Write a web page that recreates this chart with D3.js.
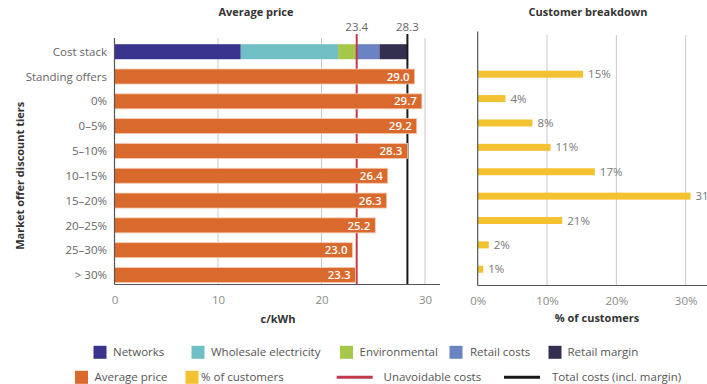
<!DOCTYPE html>
<html><head><meta charset="utf-8">
<script src="https://cdn.jsdelivr.net/npm/d3@7"></script>
<style>
html,body{margin:0;padding:0;background:#fff;}
svg{display:block;font-family:"Open Sans",sans-serif;}
</style></head>
<body><svg id="chart" width="707" height="384"></svg>
<script>
// ---- data ----
const rows = ["Cost stack","Standing offers","0%","0–5%","5–10%","10–15%","15–20%","20–25%","25–30%","> 30%"];
const tiers = rows.slice(1);
const costComponents = ["Networks","Wholesale electricity","Environmental","Retail costs","Retail margin"];
const costValues = [12.2, 9.4, 1.8, 2.2, 2.7];
const avgPrice = [29.0, 29.7, 29.2, 28.3, 26.4, 26.3, 25.2, 23.0, 23.3];
const customerBar = [15.2, 4.0, 7.9, 10.5, 16.9, 30.7, 12.2, 1.6, 0.8];
const customerLabels = ["15%","4%","8%","11%","17%","31%","21%","2%","1%"];
const unavoidable = 23.4;
const totalCost = 28.3;
const priceTicks = [0, 10, 20, 30];
const pctTicks = [0, 10, 20, 30];

// ---- styles ----
const costColors = ["#3b348f","#6fbfc4","#a6c84a","#6b83c2","#33304f"];
const orange = "#d9692c", yellow = "#f2c230", red = "#c23a4c", black = "#1a1a1a";

const svg = d3.select("#chart");

// ---- left panel ----
const xL = d3.scaleLinear().domain([0, 30]).range([114.5, 425]);
const yL = d3.scaleBand().domain(rows).range([38, 288.7]).paddingInner(0.395).paddingOuter(0.25);
const L = svg.append("g");
// gridlines
L.selectAll("line.grid").data(priceTicks.slice(1)).enter().append("line")
  .attr("x1", d => xL(d)).attr("x2", d => xL(d)).attr("y1", 38).attr("y2", 284.5)
  .attr("stroke", "#c8c8c8").attr("stroke-width", 1);
// cost stack
let acc = 0;
const stack = costValues.map((v, i) => { const s = {start: acc, end: acc + v, c: costColors[i]}; acc += v; return s; });
L.selectAll("rect.stack").data(stack).enter().append("rect")
  .attr("x", d => xL(d.start)).attr("width", d => xL(d.end) - xL(d.start))
  .attr("y", yL("Cost stack")).attr("height", yL.bandwidth()).attr("fill", d => d.c);
// reference lines (behind the price bars, above the cost stack)
[[unavoidable, red], [totalCost, black]].forEach(([v, c]) => {
  L.append("line").attr("x1", xL(v)).attr("x2", xL(v)).attr("y1", 34).attr("y2", 284.5)
    .attr("stroke", c).attr("stroke-width", 2);
  L.append("text").attr("x", xL(v)).attr("y", 31).attr("text-anchor", "middle")
    .attr("font-size", 11.5).attr("fill", "#666").text(v.toFixed(1));
});
// price bars
L.selectAll("rect.price").data(avgPrice).enter().append("rect")
  .attr("x", xL(0)).attr("width", d => xL(d) - xL(0))
  .attr("y", (d, i) => yL(tiers[i])).attr("height", yL.bandwidth())
  .attr("fill", orange).attr("stroke", "#f5cdb3").attr("stroke-width", 0.8);
L.selectAll("text.val").data(avgPrice).enter().append("text")
  .attr("x", d => xL(d) - 5).attr("y", (d, i) => yL(tiers[i]) + yL.bandwidth() / 2)
  .attr("dy", "0.36em").attr("text-anchor", "end").attr("fill", "#fff")
  .attr("font-size", 11.5).attr("font-weight", 600).text(d => d.toFixed(1));
// axes lines
L.append("line").attr("x1", xL(0)).attr("x2", xL(0)).attr("y1", 38).attr("y2", 284.5).attr("stroke", "#555").attr("stroke-width", 1.2);
L.append("line").attr("x1", xL(0)).attr("x2", 440).attr("y1", 284.5).attr("y2", 284.5).attr("stroke", "#555").attr("stroke-width", 1.2);
// x axis ticks
const axL = d3.axisBottom(xL).tickValues(priceTicks).tickSize(0).tickPadding(0).tickFormat(d3.format("d"));
L.append("g").attr("transform", "translate(0,296)").call(axL)
  .call(g => g.select(".domain").remove())
  .call(g => g.selectAll("text").attr("font-size", 11.5).attr("fill", "#8a8a8a").attr("font-family", "Open Sans"));
// row labels
L.selectAll("text.cat").data(rows).enter().append("text")
  .attr("x", 107).attr("y", d => yL(d) + yL.bandwidth() / 2).attr("dy", "0.36em")
  .attr("text-anchor", "end").attr("font-size", 11.5).attr("fill", "#666").text(d => d);
// titles
svg.append("text").attr("x", 256).attr("y", 15.5).attr("text-anchor", "middle")
  .attr("font-size", 11).attr("font-weight", 700).attr("fill", "#333").text("Average price");
svg.append("text").attr("x", 278).attr("y", 323).attr("text-anchor", "middle")
  .attr("font-size", 11).attr("font-weight", 700).attr("fill", "#333").text("c/kWh");
svg.append("text").attr("transform", "translate(24," + ((yL(tiers[0]) + yL(tiers[8]) + yL.bandwidth()) / 2) + ") rotate(-90)")
  .attr("text-anchor", "middle").attr("font-size", 11).attr("font-weight", 700).attr("fill", "#333")
  .text("Market offer discount tiers");

// ---- right panel ----
const xR = d3.scaleLinear().domain([0, 30]).range([477.7, 685.7]);
const yR = d3.scaleBand().domain(rows).range([37.6, 281.5]).paddingInner(0.713).paddingOuter(0.357);
const R = svg.append("g");
R.selectAll("line.grid").data(pctTicks.slice(1)).enter().append("line")
  .attr("x1", d => xR(d)).attr("x2", d => xR(d)).attr("y1", 35).attr("y2", 285.5)
  .attr("stroke", "#c8c8c8").attr("stroke-width", 1);
R.selectAll("rect.pct").data(customerBar).enter().append("rect")
  .attr("x", xR(0)).attr("width", d => xR(d) - xR(0))
  .attr("y", (d, i) => yR(tiers[i])).attr("height", yR.bandwidth()).attr("fill", yellow);
R.selectAll("text.pct").data(customerBar).enter().append("text")
  .attr("x", d => xR(d) + 5).attr("y", (d, i) => yR(tiers[i]) + yR.bandwidth() / 2).attr("dy", "0.36em")
  .attr("font-size", 11.5).attr("fill", "#777").text((d, i) => customerLabels[i]);
R.append("line").attr("x1", xR(0)).attr("x2", xR(0)).attr("y1", 31.5).attr("y2", 285.5).attr("stroke", "#555").attr("stroke-width", 1.2);
R.append("line").attr("x1", xR(0)).attr("x2", 707).attr("y1", 285.5).attr("y2", 285.5).attr("stroke", "#555").attr("stroke-width", 1.2);
const axR = d3.axisBottom(xR).tickValues(pctTicks).tickSize(0).tickPadding(0).tickFormat(d => d + "%");
R.append("g").attr("transform", "translate(0,296.5)").call(axR)
  .call(g => g.select(".domain").remove())
  .call(g => g.selectAll("text").attr("font-size", 11.5).attr("fill", "#8a8a8a").attr("font-family", "Open Sans"));
svg.append("text").attr("x", 588).attr("y", 15.5).attr("text-anchor", "middle")
  .attr("font-size", 11).attr("font-weight", 700).attr("fill", "#333").text("Customer breakdown");
svg.append("text").attr("x", 597).attr("y", 322).attr("text-anchor", "middle")
  .attr("font-size", 11).attr("font-weight", 700).attr("fill", "#333").text("% of customers");

// ---- legend ----
const legendItems = [
  {label: costComponents[0], type: "box", color: costColors[0], x: 93.5, tx: 113, row: 0},
  {label: costComponents[1], type: "box", color: costColors[1], x: 191.5, tx: 211, row: 0},
  {label: costComponents[2], type: "box", color: costColors[2], x: 340, tx: 359.5, row: 0},
  {label: costComponents[3], type: "box", color: costColors[3], x: 449.5, tx: 470, row: 0},
  {label: costComponents[4], type: "box", color: costColors[4], x: 548.5, tx: 567.5, row: 0},
  {label: "Average price", type: "box", color: orange, x: 75, tx: 94.5, row: 1},
  {label: "% of customers", type: "box", color: yellow, x: 185.5, tx: 201, row: 1},
  {label: "Unavoidable costs", type: "line", color: red, x: 336.7, tx: 383.5, row: 1},
  {label: "Total costs (incl. margin)", type: "line", color: black, x: 504, tx: 552, row: 1}
];
const rowY = [352.3, 377.3];
const lg = svg.append("g").selectAll("g").data(legendItems).enter().append("g");
lg.filter(d => d.type === "box").append("rect")
  .attr("x", d => d.x).attr("y", d => rowY[d.row] - 6.5).attr("width", 13).attr("height", 13).attr("fill", d => d.color);
lg.filter(d => d.type === "line").append("line")
  .attr("x1", d => d.x).attr("x2", d => d.x + 36).attr("y1", d => rowY[d.row]).attr("y2", d => rowY[d.row])
  .attr("stroke", d => d.color).attr("stroke-width", 3);
lg.append("text").attr("x", d => d.tx).attr("y", d => rowY[d.row]).attr("dy", "0.36em")
  .attr("font-size", 11.5).attr("fill", "#555").text(d => d.label);
</script></body></html>
